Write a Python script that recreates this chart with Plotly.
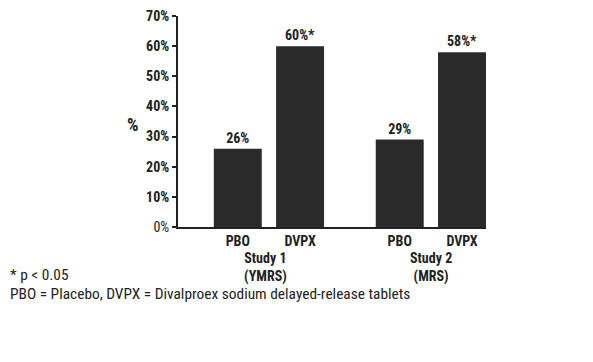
import plotly.graph_objects as go

studies = ["Study 1<br>(YMRS)", "Study 2<br>(MRS)"]
arms = ["PBO", "DVPX"]
values = [[26, 60], [29, 58]]
significant = [[False, True], [False, True]]
y_ticks = [0, 10, 20, 30, 40, 50, 60, 70]
footnotes = ["* p < 0.05", "PBO = Placebo, DVPX = Divalproex sodium delayed-release tablets"]

FONT = "Liberation Sans Narrow, Roboto Condensed, Arial Narrow, Liberation Sans, sans-serif"
GROUP_GAP = 2.6

xs, ys, texts, ticktext = [], [], [], []
for g, study in enumerate(studies):
    for j, arm in enumerate(arms):
        xs.append(g * GROUP_GAP + j)
        ys.append(values[g][j])
        texts.append(f"{values[g][j]}%" + ("*" if significant[g][j] else ""))
        ticktext.append(f"<b>{arm}</b>")

fig = go.Figure(go.Bar(
    x=xs, y=ys, width=0.77, marker=dict(color="#2a2a2a", line=dict(width=0)),
    text=texts, textposition="outside", cliponaxis=False,
    textfont=dict(family=FONT, size=14, color="#222", weight="bold"),
))

for g, study in enumerate(studies):
    fig.add_annotation(x=g * GROUP_GAP + 0.5, y=0, yref="y", xref="x", text=f"<b>{study}</b>",
                       showarrow=False, yanchor="top", yshift=-21, xshift=-3 if g == 0 else 0,
                       font=dict(family=FONT, size=14, color="#222"))

fig.add_annotation(x=0, xref="paper", xanchor="right", xshift=-37, y=0.486, yref="paper",
                   yanchor="middle", text="%", showarrow=False,
                   font=dict(family=FONT, size=18, color="#222", weight="bold"))

fig.add_annotation(xref="paper", yref="paper", x=0, y=0, xanchor="left", yanchor="middle",
                   xshift=-170, yshift=-48, text=footnotes[0], showarrow=False,
                   font=dict(family=FONT, size=15.4, color="#222"))
fig.add_annotation(xref="paper", yref="paper", x=0, y=0, xanchor="left", yanchor="middle",
                   xshift=-170, yshift=-67, text=footnotes[1], showarrow=False,
                   font=dict(family=FONT, size=15.4, color="#222"))

fig.update_layout(
    template="none",
    width=593, height=362, margin=dict(l=170, r=115, t=8, b=143),
    plot_bgcolor="white", paper_bgcolor="white", showlegend=False,
    xaxis=dict(range=[-0.96, 3.985], tickvals=xs, ticktext=ticktext, showline=True,
               linecolor="#222", linewidth=2, ticks="", showgrid=False, zeroline=False,
               automargin=False, ticklabeloverflow="allow",
               tickfont=dict(family=FONT, size=14, color="#222")),
    yaxis=dict(range=[0, 70], tickvals=y_ticks,
               ticktext=[("%d%%" % v) if v == 0 else ("<b>%d%%</b>" % v) for v in y_ticks],
               showline=True, linecolor="#222", linewidth=2, ticks="outside", ticklen=4,
               tickwidth=2, tickcolor="#222", showgrid=False, zeroline=False,
               automargin=False, ticklabeloverflow="allow",
               tickfont=dict(family=FONT, size=14, color="#222")),
)

fig.write_html("out.html")
